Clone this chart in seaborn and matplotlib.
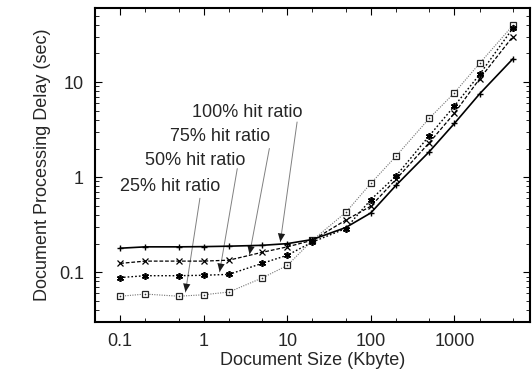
import numpy as np
import pandas as pd
import matplotlib
matplotlib.use("Agg")
import matplotlib.pyplot as plt
import seaborn as sns
from matplotlib.ticker import LogLocator, NullFormatter, FixedLocator, FixedFormatter

# Data
doc_size = [0.1, 0.2, 0.5, 1, 2, 5, 10, 20, 50, 100, 200, 500, 1000, 2000, 5000]

delay_100 = [0.179, 0.185, 0.185, 0.186, 0.188, 0.192, 0.200, 0.221, 0.295,
             0.421, 0.82, 1.85, 3.67, 7.5, 17.5]
delay_75 = [0.124, 0.131, 0.131, 0.131, 0.134, 0.162, 0.185, 0.217, 0.353,
            0.495, 0.95, 2.30, 4.7, 10.8, 30.0]
delay_50 = [0.088, 0.092, 0.092, 0.093, 0.095, 0.124, 0.151, 0.208, 0.288,
            0.58, 1.03, 2.72, 5.6, 12.0, 36.7]
delay_25 = [0.056, 0.059, 0.056, 0.058, 0.062, 0.087, 0.118, 0.217, 0.425,
            0.86, 1.66, 4.15, 7.7, 15.7, 39.3]

labels = ["100% hit ratio", "75% hit ratio", "50% hit ratio", "25% hit ratio"]
label_pos = [(0.72, 4.83), (0.394, 2.70), (0.198, 1.49), (0.1, 0.79)]
arrow_start = [(13.1, 3.8), (6.1, 2.0), (2.52, 1.23), (0.90, 0.60)]
arrow_tip = [(8.26, 0.209), (3.53, 0.154), (1.55, 0.101), (0.605, 0.062)]

sns.set_theme(style="ticks")
plt.rcParams["font.family"] = ["Liberation Sans", "DejaVu Sans"]

fig = plt.figure(figsize=(5.32, 3.72), dpi=100)
ax = fig.add_axes([0.1786, 0.1344, 0.8174, 0.8441])
ax.set_xscale("log")
ax.set_yscale("log")

# 25% : gray dotted line, open squares with a dot inside
sns.lineplot(x=doc_size, y=delay_25, ax=ax, color="0.45", lw=0.8,
             linestyle=(0, (1, 1.2)), marker="s", markersize=4.5,
             markerfacecolor="white", markeredgecolor="0.15",
             markeredgewidth=0.9, zorder=3)
sns.scatterplot(x=doc_size, y=delay_25, ax=ax, color="0.2", s=1.5,
                linewidth=0, zorder=3.5)
sns.lineplot(x=doc_size, y=delay_50, ax=ax, color="black", lw=1.0,
             linestyle=(0, (1.2, 1.5)), marker=(6, 2, 0), markersize=5,
             markeredgecolor="black", markeredgewidth=1.2, zorder=4)
sns.lineplot(x=doc_size, y=delay_75, ax=ax, color="black", lw=0.9,
             linestyle=(0, (3, 1.5)), marker="x", markersize=4.5,
             markeredgecolor="black", markeredgewidth=0.9, zorder=5)
sns.lineplot(x=doc_size, y=delay_100, ax=ax, color="black", lw=1.2,
             linestyle="-", marker="+", markersize=5,
             markeredgecolor="black", markeredgewidth=1.0, zorder=6)

for lab, pos, st, tip in zip(labels, label_pos, arrow_start, arrow_tip):
    ax.text(pos[0], pos[1], lab, fontsize=13, ha="left", va="center")
    # gray shaft
    ax.annotate("", xy=tip, xytext=st,
                arrowprops=dict(arrowstyle="-", color="0.5", lw=0.7,
                                shrinkA=0, shrinkB=0))
    # black head
    ax.annotate("", xy=tip, xytext=st,
                arrowprops=dict(arrowstyle="-|>,head_length=0.5,head_width=0.22",
                                color="0.1", lw=0, shrinkA=0, shrinkB=0))

ax.set_xlim(0.05, 8000)
ax.set_ylim(0.03, 60)

ax.xaxis.set_major_locator(FixedLocator([0.1, 1, 10, 100, 1000]))
ax.xaxis.set_major_formatter(FixedFormatter(["0.1", "1", "10", "100", "1000"]))
ax.xaxis.set_minor_locator(LogLocator(base=10, subs=(2, 5)))
ax.xaxis.set_minor_formatter(NullFormatter())
ax.yaxis.set_major_locator(FixedLocator([0.1, 1, 10]))
ax.yaxis.set_major_formatter(FixedFormatter(["0.1", "1", "10"]))
ax.yaxis.set_minor_locator(LogLocator(base=10, subs=np.arange(2, 10)))
ax.yaxis.set_minor_formatter(NullFormatter())

ax.tick_params(which="both", direction="in", top=True, right=True,
               labelsize=13, color="black")
ax.tick_params(which="major", length=5, width=0.8, pad=8)
ax.tick_params(which="minor", length=3, width=0.6)

for s in ax.spines.values():
    s.set_linewidth(1.5)
    s.set_color("black")

ax.set_xlabel("Document Size (Kbyte)", fontsize=13, labelpad=1)
ax.set_ylabel("Document Processing Delay (sec)", fontsize=13, labelpad=6)

fig.savefig("out.png", dpi=100)
